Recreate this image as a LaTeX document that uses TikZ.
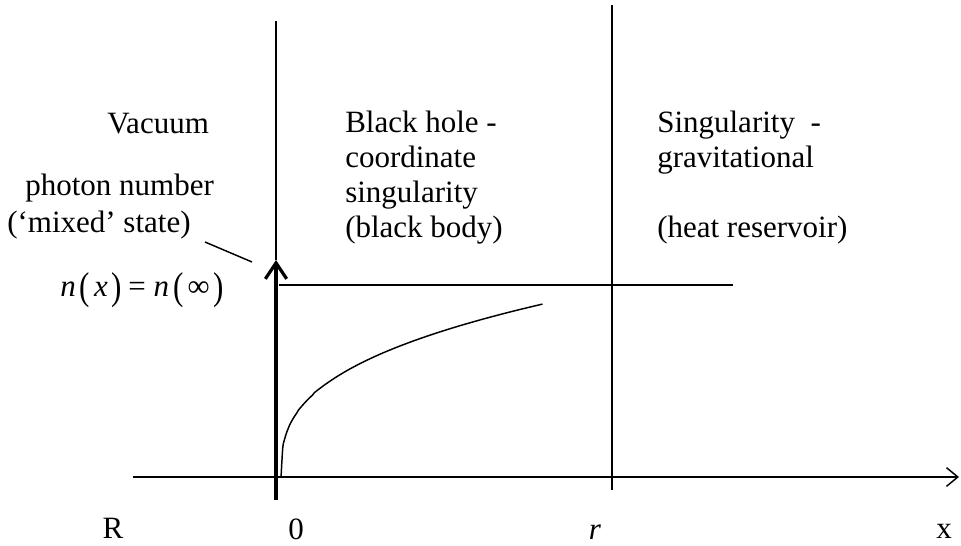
\documentclass[tikz,border=0pt]{standalone}
\usepackage{fontspec}
\usepackage{graphicx}
\setmainfont{Liberation Serif}
\usetikzlibrary{arrows.meta}
\newcommand{\tallparen}[1]{\raisebox{-0.12em}{\scalebox{1}[1.25]{#1}}}
\newcommand{\gp}{\hspace{0.13em}}
\tikzset{
  thin line/.style={line width=1.1pt},
  label text/.style={font=\fontsize{23.25}{26.25}\selectfont, inner sep=0pt},
}
\begin{document}
\begin{tikzpicture}[x=0.75pt,y=-0.75pt]
\useasboundingbox (0,0) rectangle (961,546);
% coordinates
\coordinate (ltop) at (276,21);
\coordinate (arrtip) at (276,260);
\coordinate (arrbot) at (276,500);
\coordinate (rtop) at (612,5);
\coordinate (rbot) at (612,490);
\coordinate (axl) at (133,477);
\coordinate (axr) at (959,477);
\coordinate (hl) at (279,285);
\coordinate (hr) at (733,285);
\coordinate (ptr1) at (205,242);
\coordinate (ptr2) at (252,262);
% lines
\draw[thin line] (ltop) -- (arrtip);
\draw[thin line] (rtop) -- (rbot);
\draw[thin line, -{Straight Barb[length=8.5pt,width=14pt,line width=1.1pt]}] (axl) -- (axr);
\draw[thin line] (hl) -- (hr);
\draw[thin line] (ptr1) -- (ptr2);
\draw[line width=3pt, -{Straight Barb[length=12pt,width=16pt,line width=2.4pt]}] (arrbot) -- (arrtip);
% curve
\draw[thin line] plot[domain=0:1, samples=150, smooth] ({281+262*\x},{478-174*(\x)^0.35});
% texts
\node[label text, anchor=base west] (vac) at (107,133) {Vacuum};
\node[label text, anchor=base west] (bh1) at (345,132) {Black hole -};
\node[label text, anchor=base west] (bh2) at (345,167) {coordinate};
\node[label text, anchor=base west] (bh3) at (345,202) {singularity};
\node[label text, anchor=base west] (bh4) at (345,237) {(black body)};
\node[label text, anchor=base west] (sg1) at (657,132) {Singularity \ -};
\node[label text, anchor=base west] (sg2) at (657,167) {gravitational};
\node[label text, anchor=base west] (sg4) at (657,237) {(heat reservoir)};
\node[label text, anchor=base west] (pn1) at (25,195) {photon number};
\node[label text, anchor=base west] (pn2) at (7,232) {(‘mixed’ state)};
\node[label text, anchor=base west] (nx) at (60,296) {\textit{n}\gp\tallparen{(}\gp\textit{x}\gp\tallparen{)}\hspace{0.2em}=\hspace{0.25em}\textit{n}\gp\tallparen{(}\gp∞\gp\tallparen{)}};
\node[label text, anchor=base] (R) at (113,538) {R};
\node[label text, anchor=base] (zero) at (296,539) {0};
\node[label text, anchor=base] (r) at (595,539) {\textit{r}};
\node[label text, anchor=base] (xl) at (944,538) {x};
\end{tikzpicture}
\end{document}
